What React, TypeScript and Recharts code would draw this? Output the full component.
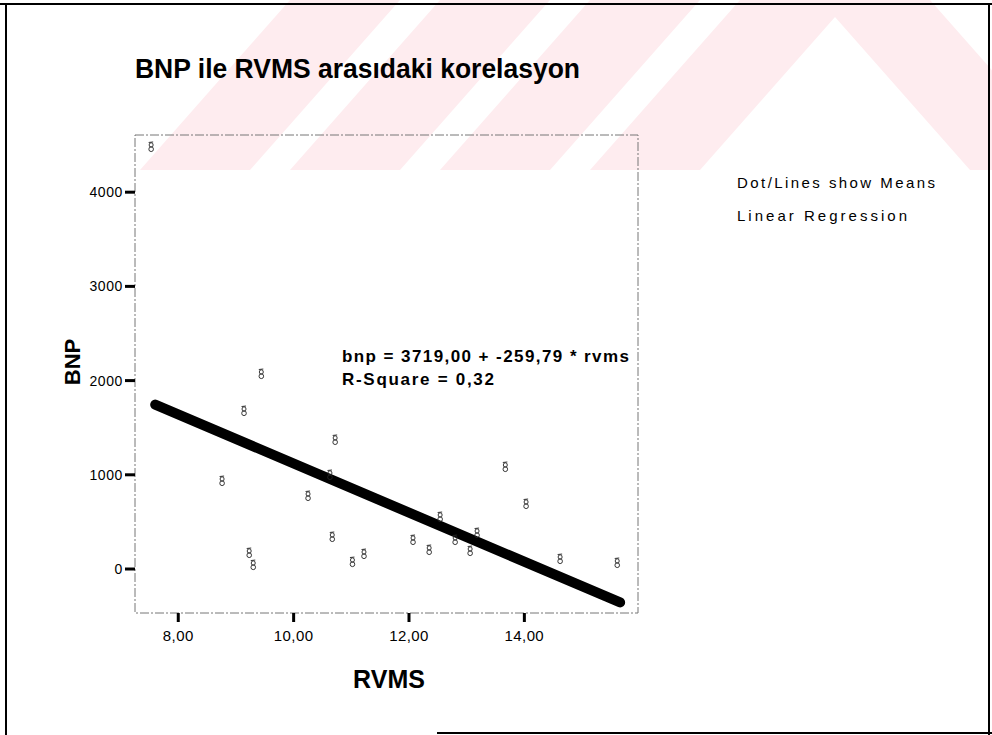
import React from 'react';
import { ScatterChart, Scatter, XAxis, YAxis } from 'recharts';

// values
const rvms = [7.53, 9.44, 9.14, 8.76, 9.23, 9.3, 10.72, 10.25, 10.63, 10.67, 11.02, 11.22, 12.07, 12.35, 12.54, 12.8, 13.18, 13.06, 13.67, 14.03, 14.62, 15.61];
const bnp = [4480, 2070, 1677, 934, 170, 42, 1370, 775, 998, 340, 74, 159, 308, 202, 552, 308, 382, 191, 1083, 690, 106, 64];

// fit line ends as drawn
const fitRvms = [7.6, 15.66];
const fitBnp = [1745, -355];

const xTicks = [8, 10, 12, 14];
const yTicks = [0, 1000, 2000, 3000, 4000];

const points = rvms.map((x, i) => ({ x, y: bnp[i] }));
const fitLine = fitRvms.map((x, i) => ({ x, y: fitBnp[i] }));

const FONT = '"Liberation Sans", Arial, sans-serif';

// small scribbled SPSS-style marker
const Marker = (props: any) => {
  const { cx, cy } = props;
  if (cx == null || cy == null) return null;
  return (
    <g stroke="#222" strokeWidth={0.9} fill="none">
      <ellipse cx={cx} cy={cy - 2} rx={2} ry={2.2} />
      <ellipse cx={cx} cy={cy + 2.2} rx={2.3} ry={2.4} />
      <line x1={cx - 2.5} y1={cy - 4.5} x2={cx + 2} y2={cy - 5} />
    </g>
  );
};

const Background = () => (
  <svg width={992} height={735} style={{ position: 'absolute', left: 0, top: 0 }}>
    {/* faint watermark stripes */}
    <g fill="#feecef">
      {[0, 1, 2, 3].map(k => (
        <polygon
          key={k}
          points={`${140 + 150 * k},170 ${250 + 150 * k},170 ${400 + 150 * k},0 ${290 + 150 * k},0`}
        />
      ))}
      <polygon points="820,0 930,0 1080,170 970,170" />
    </g>
    {/* page frame */}
    <line x1={6} y1={3} x2={6} y2={735} stroke="#000" strokeWidth={2} />
    <line x1={0} y1={4} x2={992} y2={4} stroke="#000" strokeWidth={2} />
    <line x1={989} y1={3} x2={989} y2={735} stroke="#000" strokeWidth={2} />
    <line x1={437} y1={733} x2={992} y2={733} stroke="#000" strokeWidth={2} />
    {/* plot frame */}
    <rect x={135} y={135} width={503} height={478} fill="none" stroke="#777" strokeWidth={1} strokeDasharray="9 2 2 2" />
  </svg>
);

const Overlay = () => (
  <svg width={992} height={735} style={{ position: 'absolute', left: 0, top: 0, pointerEvents: 'none' }} fontFamily={FONT}>
    <text x={135} y={78} fontSize={27} fontWeight="bold" fill="#000" textLength={445} lengthAdjust="spacingAndGlyphs">
      BNP ile RVMS arasıdaki korelasyon
    </text>
    <text x={342} y={362} fontSize={17} fontWeight="bold" fill="#000" textLength={287} lengthAdjust="spacing">
      bnp = 3719,00 + -259,79 * rvms
    </text>
    <text x={342} y={385} fontSize={17} fontWeight="bold" fill="#000" textLength={152} lengthAdjust="spacing">
      R-Square = 0,32
    </text>
    <text x={737} y={188} fontSize={15} fill="#000" textLength={198} lengthAdjust="spacing">
      Dot/Lines show Means
    </text>
    <text x={737} y={221} fontSize={15} fill="#000" textLength={170} lengthAdjust="spacing">
      Linear Regression
    </text>
    <text x={389} y={688} fontSize={25} fontWeight="bold" fill="#000" textAnchor="middle">
      RVMS
    </text>
    <text transform="translate(80,362) rotate(-90)" fontSize={22} fontWeight="bold" fill="#000" textAnchor="middle">
      BNP
    </text>
  </svg>
);

export default function App() {
  return (
    <div style={{ position: 'absolute', left: 0, top: 0, width: 992, height: 735, background: '#fff', overflow: 'hidden' }}>
      <Background />
      <div style={{ position: 'absolute', left: 0, top: 0 }}>
        <ScatterChart width={992} height={735} margin={{ top: 135, right: 354, bottom: 82, left: 75 }}>
          <XAxis
            type="number"
            dataKey="x"
            domain={[7.25, 15.97]}
            ticks={xTicks}
            allowDataOverflow
            axisLine={false}
            tickLine={{ stroke: '#000', strokeWidth: 3 }}
            tickSize={9}
            tickMargin={8}
            height={40}
            tickFormatter={(v: number) => v.toFixed(2).replace('.', ',')}
            tick={{ fill: '#000', fontSize: 15, fontFamily: FONT, letterSpacing: 0.4 }}
          />
          <YAxis
            type="number"
            dataKey="y"
            domain={[-467, 4607]}
            ticks={yTicks}
            allowDataOverflow
            axisLine={false}
            tickLine={{ stroke: '#000', strokeWidth: 3 }}
            tickSize={10}
            tickMargin={2}
            width={60}
            tick={{ fill: '#000', fontSize: 14, fontFamily: FONT, letterSpacing: 0.6 }}
          />
          <Scatter
            data={fitLine}
            line={{ stroke: '#000', strokeWidth: 10, strokeLinecap: 'round' }}
            shape={() => <g />}
            isAnimationActive={false}
          />
          <Scatter data={points} shape={<Marker />} isAnimationActive={false} />
        </ScatterChart>
      </div>
      <Overlay />
    </div>
  );
}
